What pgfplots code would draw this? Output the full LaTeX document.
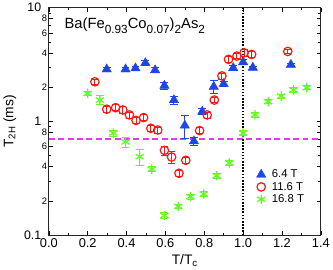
\documentclass[border=0pt]{standalone}
\usepackage{pgfplots}
\pgfplotsset{compat=1.18}
\usepackage{fontspec}
\setmainfont{Liberation Sans}
\definecolor{cblue}{RGB}{30,70,230}
\definecolor{cred}{RGB}{255,20,20}
\definecolor{cgreen}{RGB}{100,250,40}
\definecolor{cmag}{RGB}{225,60,235}
\newcommand{\sub}[1]{\raisebox{-0.6ex}{\fontsize{12}{12}\selectfont #1}}
\begin{document}
\begin{tikzpicture}
\begin{axis}[
  width=275bp, height=230bp, scale only axis,
  ymode=log, xmin=0, xmax=1.4, ymin=0.1, ymax=10,
  xtick={0,0.2,0.4,0.6,0.8,1.0,1.2,1.4},
  xticklabels={0.0,0.2,0.4,0.6,0.8,1.0,1.2,1.4},
  minor x tick num=1,
  ytick={0.1,0.2,0.4,0.6,0.8,1,2,4,6,8,10},
  yticklabels={{\fontsize{12.5}{14}\selectfont 0.1\kern6bp},2,4,6,8,{\fontsize{12.5}{14}\selectfont 1\kern6bp},2,4,6,8,{\fontsize{12.5}{14}\selectfont 10\kern6bp}},
  minor ytick={0.3,0.5,0.7,0.9,3,5,7,9},
  tick align=inside,
  major tick length=4bp, minor tick length=2.5bp,
  axis line style={line width=0.9pt, black!85},
  every tick/.style={black, line width=0.6pt},
  /pgf/number format/assume math mode=true,
  x tick label style={font=\fontsize{13}{14}\selectfont},
  y tick label style={font=\fontsize{9.5}{10}\selectfont, inner xsep=1.5bp},
  xlabel={T/T\textsubscript{c}},
  ylabel={T\textsubscript{2H} (ms)},
  ylabel shift=3bp,
  label style={font=\fontsize{14}{16}\selectfont},
  legend style={draw=none, fill=none, at={(0.752,0.305)}, anchor=north west, font=\fontsize{11.5}{13}\selectfont, row sep=-1pt},
  legend cell align=left,
  clip=false,
]
\addplot[color=cmag, dash pattern=on 6bp off 3.5bp, line width=1.2pt, forget plot] coordinates {(0,0.7) (1.4,0.7)};
\addplot[black, dash pattern=on 1.6pt off 1.6pt, line width=1.6pt, forget plot] coordinates {(1,0.1) (1,10)};

\addplot[only marks, mark=triangle*, mark size=5.5pt, color=cblue,
  error bars/.cd, y dir=both, y explicit, error bar style={line width=0.9pt}, error mark options={rotate=90, mark size=4pt, line width=0.9pt}]
  table[x=x, y=y, y error=e]{
x y e
0.298 2.87 0.12
0.395 2.87 0.12
0.446 2.93 0.12
0.497 3.26 0.15
0.547 2.82 0.15
0.595 2.06 0.15
0.644 1.54 0.12
0.700 0.92 0.21
0.747 0.67 0.05
0.790 1.22 0.08
0.849 2.02 0.25
0.900 2.13 0.10
0.949 2.95 0.15
1.000 3.32 0.15
1.050 2.97 0.10
1.246 3.15 0.10
};
\addlegendentry{\hspace{4bp}6.4 T}

\addplot[only marks, mark=o, mark size=4.3pt, color=cred, mark options={line width=1.2pt},
  error bars/.cd, y dir=both, y explicit, error bar style={line width=0.9pt}, error mark options={rotate=90, mark size=3.5pt, line width=0.9pt}]
  table[x=x, y=y, y error=e]{
x y e
0.237 2.23 0.12
0.298 1.28 0.08
0.344 1.32 0.08
0.381 1.26 0.08
0.415 1.14 0.07
0.449 1.02 0.06
0.488 1.08 0.06
0.525 0.87 0.06
0.561 0.84 0.05
0.595 0.556 0.05
0.632 0.486 0.06
0.670 0.35 0.02
0.705 0.455 0.03
0.776 0.83 0.05
0.815 1.14 0.07
0.852 1.54 0.08
0.891 2.51 0.15
0.925 3.51 0.2
0.968 3.75 0.2
1.005 4.01 0.25
1.044 3.88 0.2
1.230 4.12 0.2
};
\addlegendentry{\hspace{4bp}11.6 T}

\addplot[only marks, mark=asterisk, mark size=4.8pt, color=cgreen, mark options={line width=1.3pt},
  error bars/.cd, y dir=both, y explicit, error bar style={line width=0.9pt}, error mark options={rotate=90, mark size=4pt, line width=0.9pt}]
  table[x=x, y=y, y error=e]{
x y e
0.200 1.76 0.08
0.263 1.54 0.14
0.332 0.79 0.05
0.395 0.66 0.07
0.468 0.49 0.08
0.530 0.38 0.02
0.595 0.149 0.008
0.666 0.179 0.008
0.729 0.218 0.01
0.798 0.23 0.01
0.864 0.333 0.015
0.929 0.43 0.02
1.000 0.79 0.04
1.061 1.14 0.05
1.129 1.49 0.06
1.196 1.67 0.07
1.259 1.89 0.08
1.327 1.98 0.08
};
\addlegendentry{\hspace{4bp}16.8 T}

\node[anchor=west, font=\fontsize{15}{16}\selectfont] at (rel axis cs:0.045,0.922) {Ba(Fe\sub{0.93}Co\sub{0.07})\sub{2}As\sub{2}};
\end{axis}
\end{tikzpicture}
\end{document}
